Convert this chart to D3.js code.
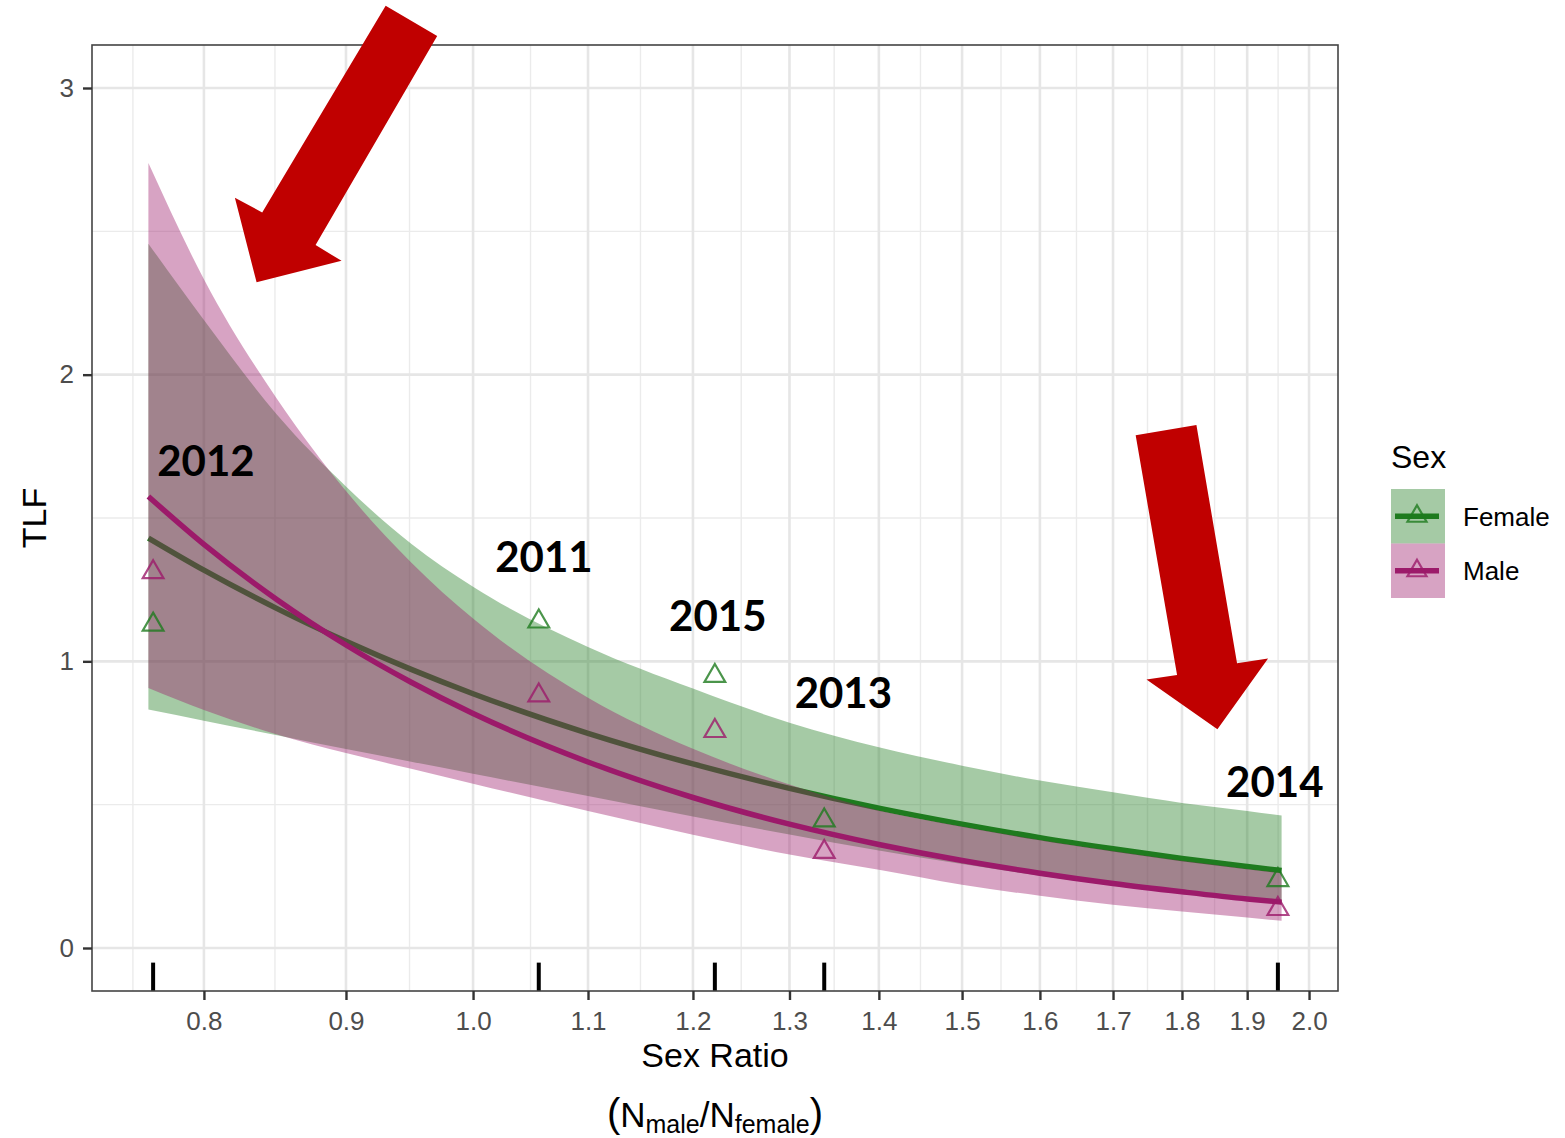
<!DOCTYPE html>
<html>
<head>
<meta charset="utf-8">
<script src="https://cdn.jsdelivr.net/npm/d3@7/dist/d3.min.js"></script>
<style>
  html, body { margin: 0; padding: 0; background: #ffffff; }
  svg { display: block; }
</style>
</head>
<body>
<svg id="chart" width="1565" height="1138"></svg>
<script>
// ---- fitted curves (TLF vs sex ratio), with 95% bands ----
const sexRatioGrid = [0.764, 0.8, 0.85, 0.9, 0.95, 1.0, 1.1, 1.2, 1.3, 1.4, 1.5, 1.6, 1.7, 1.8, 1.9, 1.955];
const femaleFit   = [1.430, 1.318, 1.184, 1.070, 0.972, 0.887, 0.749, 0.642, 0.557, 0.488, 0.432, 0.385, 0.346, 0.312, 0.284, 0.270];
const femaleLower = [0.832, 0.793, 0.742, 0.694, 0.650, 0.608, 0.530, 0.459, 0.396, 0.340, 0.293, 0.252, 0.218, 0.190, 0.166, 0.157];
const femaleUpper = [2.457, 2.191, 1.860, 1.610, 1.410, 1.260, 1.050, 0.905, 0.786, 0.700, 0.636, 0.584, 0.543, 0.506, 0.478, 0.462];
const maleFit     = [1.575, 1.408, 1.215, 1.057, 0.927, 0.818, 0.649, 0.525, 0.432, 0.361, 0.305, 0.261, 0.225, 0.196, 0.171, 0.160];
const maleLower   = [0.907, 0.830, 0.745, 0.680, 0.625, 0.573, 0.478, 0.395, 0.326, 0.273, 0.221, 0.182, 0.151, 0.127, 0.106, 0.095];
const maleUpper   = [2.738, 2.333, 1.915, 1.594, 1.345, 1.149, 0.873, 0.695, 0.570, 0.480, 0.424, 0.377, 0.338, 0.304, 0.276, 0.262];

// ---- observed yearly values ----
const years          = ["2012", "2011", "2015", "2013", "2014"];
const pointSexRatio  = [0.767, 1.056, 1.222, 1.338, 1.949];
const femaleTLF      = [1.128, 1.139, 0.949, 0.445, 0.237];
const maleTLF        = [1.311, 0.881, 0.757, 0.335, 0.136];

// year annotation anchors (sex ratio, TLF)
const yearLabelX = [0.8013, 1.0605, 1.225, 1.3594, 1.944];
const yearLabelY = [1.646, 1.311, 1.106, 0.837, 0.527];

// call-out arrows, vertices in (sex ratio, TLF)
const arrowLeft  = [[0.9301, 3.287], [0.9707, 3.181], [0.8776, 2.452], [0.8967, 2.397], [0.8357, 2.322], [0.8208, 2.617], [0.8396, 2.566]];
const arrowRight = [[1.7322, 1.789], [1.8217, 1.824], [1.8841, 0.993], [1.9332, 1.010], [1.8537, 0.763], [1.7478, 0.937], [1.7927, 0.952]];

// axes
const xTicks = [0.8, 0.9, 1.0, 1.1, 1.2, 1.3, 1.4, 1.5, 1.6, 1.7, 1.8, 1.9, 2.0];
const yTicks = [0, 1, 2, 3];
const sexes = ["Female", "Male"];
const sexColors = { Female: "#1e7b1e", Male: "#9c1a6a" };

// ---- layout ----
const panel = { left: 92, right: 1338, top: 45, bottom: 991 };
const svg = d3.select("#chart");

const x = d3.scaleLog().domain([0.7291, 2.0486]).range([panel.left, panel.right]);
const y = d3.scaleLinear().domain([-0.15, 3.15]).range([panel.bottom, panel.top]);

const font = "'Liberation Sans', Arial, Helvetica, sans-serif";

// panel background
svg.append("rect")
  .attr("x", panel.left).attr("y", panel.top)
  .attr("width", panel.right - panel.left).attr("height", panel.bottom - panel.top)
  .attr("fill", "#ffffff");

// grid: minor lines sit at geometric midpoints on the log axis
const [dx0, dx1] = x.domain();
const xMinor = [];
xMinor.push(xTicks[0] * Math.sqrt(xTicks[0] / xTicks[1]));
for (let i = 0; i < xTicks.length - 1; i++) xMinor.push(Math.sqrt(xTicks[i] * xTicks[i + 1]));
const nLast = xTicks.length - 1;
xMinor.push(xTicks[nLast] * Math.sqrt(xTicks[nLast] / xTicks[nLast - 1]));
const yMinor = [-0.5, 0.5, 1.5, 2.5, 3.5];

const grid = svg.append("g");
grid.selectAll(".xminor").data(xMinor.filter(v => v > dx0 && v < dx1)).join("line")
  .attr("x1", d => x(d)).attr("x2", d => x(d))
  .attr("y1", panel.top).attr("y2", panel.bottom)
  .attr("stroke", "#ebebeb").attr("stroke-width", 1.4);
grid.selectAll(".yminor").data(yMinor.filter(v => v > -0.15 && v < 3.15)).join("line")
  .attr("y1", d => y(d)).attr("y2", d => y(d))
  .attr("x1", panel.left).attr("x2", panel.right)
  .attr("stroke", "#ebebeb").attr("stroke-width", 1.4);
grid.selectAll(".xmajor").data(xTicks).join("line")
  .attr("x1", d => x(d)).attr("x2", d => x(d))
  .attr("y1", panel.top).attr("y2", panel.bottom)
  .attr("stroke", "#e6e6e6").attr("stroke-width", 2.6);
grid.selectAll(".ymajor").data(yTicks).join("line")
  .attr("y1", d => y(d)).attr("y2", d => y(d))
  .attr("x1", panel.left).attr("x2", panel.right)
  .attr("stroke", "#e6e6e6").attr("stroke-width", 2.6);

// ---- bands, fitted lines ----
const series = {
  Female: sexRatioGrid.map((s, i) => ({ s, fit: femaleFit[i], lo: femaleLower[i], hi: femaleUpper[i] })),
  Male:   sexRatioGrid.map((s, i) => ({ s, fit: maleFit[i],   lo: maleLower[i],   hi: maleUpper[i] }))
};

const area = d3.area().curve(d3.curveMonotoneX)
  .x(d => x(d.s)).y0(d => y(d.lo)).y1(d => y(d.hi));
const line = d3.line().curve(d3.curveMonotoneX)
  .x(d => x(d.s)).y(d => y(d.fit));

const fits = svg.append("g");
sexes.forEach(sex => {
  fits.append("path").datum(series[sex])
    .attr("d", area)
    .attr("fill", sexColors[sex]).attr("fill-opacity", 0.4);
  fits.append("path").datum(series[sex])
    .attr("d", line)
    .attr("fill", "none").attr("stroke", sexColors[sex])
    .attr("stroke-width", 5.5);
});

// ---- observed points (open triangles) ----
const tri = (cx, cy, r) =>
  `M${cx},${cy - r}L${cx + 0.866 * r},${cy + 0.5 * r}L${cx - 0.866 * r},${cy + 0.5 * r}Z`;

const obs = {
  Female: pointSexRatio.map((s, i) => ({ s, v: femaleTLF[i] })),
  Male:   pointSexRatio.map((s, i) => ({ s, v: maleTLF[i] }))
};
sexes.forEach(sex => {
  svg.append("g").selectAll("path").data(obs[sex]).join("path")
    .attr("d", d => tri(x(d.s), y(d.v), 12))
    .attr("fill", "none")
    .attr("stroke", sexColors[sex]).attr("stroke-opacity", 0.8)
    .attr("stroke-width", 2.2);
});

// rug along the bottom of the panel
svg.append("g").selectAll("line").data(pointSexRatio).join("line")
  .attr("x1", d => x(d)).attr("x2", d => x(d))
  .attr("y1", panel.bottom - 0.03 * (panel.bottom - panel.top)).attr("y2", panel.bottom)
  .attr("stroke", "#000000").attr("stroke-width", 4);

// panel border
svg.append("rect")
  .attr("x", panel.left).attr("y", panel.top)
  .attr("width", panel.right - panel.left).attr("height", panel.bottom - panel.top)
  .attr("fill", "none").attr("stroke", "#444444").attr("stroke-width", 1.6);

// ---- axes ----
const xAxis = svg.append("g")
  .attr("transform", `translate(0,${panel.bottom})`)
  .call(d3.axisBottom(x).tickValues(xTicks).tickFormat(d3.format(".1f")).tickSize(9).tickPadding(12));
const yAxis = svg.append("g")
  .attr("transform", `translate(${panel.left},0)`)
  .call(d3.axisLeft(y).tickValues(yTicks).tickFormat(d3.format("d")).tickSize(9).tickPadding(9));

[xAxis, yAxis].forEach(g => {
  g.select(".domain").remove();
  g.selectAll(".tick line").attr("stroke", "#333333").attr("stroke-width", 2.4);
  g.selectAll(".tick text")
    .attr("fill", "#4d4d4d")
    .style("font-family", font).style("font-size", "26px");
});

// axis titles
svg.append("text")
  .attr("x", (panel.left + panel.right) / 2).attr("y", 1067)
  .attr("text-anchor", "middle")
  .style("font-family", font).style("font-size", "34px").attr("fill", "#000")
  .text("Sex Ratio");

const sub = svg.append("text")
  .attr("x", (panel.left + panel.right) / 2).attr("y", 1127)
  .attr("text-anchor", "middle")
  .style("font-family", font).attr("fill", "#000");
sub.append("tspan").style("font-size", "40px").text("(");
sub.append("tspan").style("font-size", "35px").text("N");
sub.append("tspan").style("font-size", "25px").attr("dy", 6).text("male");
sub.append("tspan").style("font-size", "35px").attr("dy", -6).text("/");
sub.append("tspan").style("font-size", "35px").text("N");
sub.append("tspan").style("font-size", "25px").attr("dy", 6).text("female");
sub.append("tspan").style("font-size", "40px").attr("dy", -6).text(")");

svg.append("text")
  .attr("transform", `translate(46,${(panel.top + panel.bottom) / 2}) rotate(-90)`)
  .attr("text-anchor", "middle")
  .style("font-family", font).style("font-size", "34px").attr("fill", "#000")
  .text("TLF");

// ---- year annotations ----
svg.append("g").selectAll("text").data(years).join("text")
  .attr("x", (d, i) => x(yearLabelX[i]))
  .attr("y", (d, i) => y(yearLabelY[i]))
  .attr("text-anchor", "middle")
  .style("font-family", "Lato, 'Open Sans', sans-serif")
  .style("font-weight", 700).style("font-size", "42px")
  .attr("fill", "#000000")
  .text(d => d);

// ---- call-out arrows ----
const poly = d3.line().x(d => x(d[0])).y(d => y(d[1]));
[arrowLeft, arrowRight].forEach(a => {
  svg.append("path").attr("d", poly(a) + "Z").attr("fill", "#c00000");
});

// ---- legend ----
const legend = svg.append("g");
legend.append("text")
  .attr("x", 1391).attr("y", 468)
  .style("font-family", font).style("font-size", "32px").attr("fill", "#000")
  .text("Sex");

const keyX = 1391, keyW = 54, keyH = 54.5, keyTop = 489;
sexes.forEach((sex, i) => {
  const top = keyTop + i * keyH;
  const cy = top + keyH / 2;
  legend.append("rect")
    .attr("x", keyX).attr("y", top).attr("width", keyW).attr("height", keyH)
    .attr("fill", sexColors[sex]).attr("fill-opacity", 0.4);
  legend.append("line")
    .attr("x1", keyX + 4).attr("x2", keyX + keyW - 6)
    .attr("y1", cy).attr("y2", cy)
    .attr("stroke", sexColors[sex]).attr("stroke-width", 5.5);
  legend.append("path")
    .attr("d", tri(keyX + keyW / 2 - 1, cy, 11))
    .attr("fill", "none")
    .attr("stroke", sexColors[sex]).attr("stroke-opacity", 0.8).attr("stroke-width", 2.2);
  legend.append("text")
    .attr("x", 1463).attr("y", cy + 9.3)
    .style("font-family", font).style("font-size", "26px").attr("fill", "#000")
    .text(sex);
});
</script>
</body>
</html>
